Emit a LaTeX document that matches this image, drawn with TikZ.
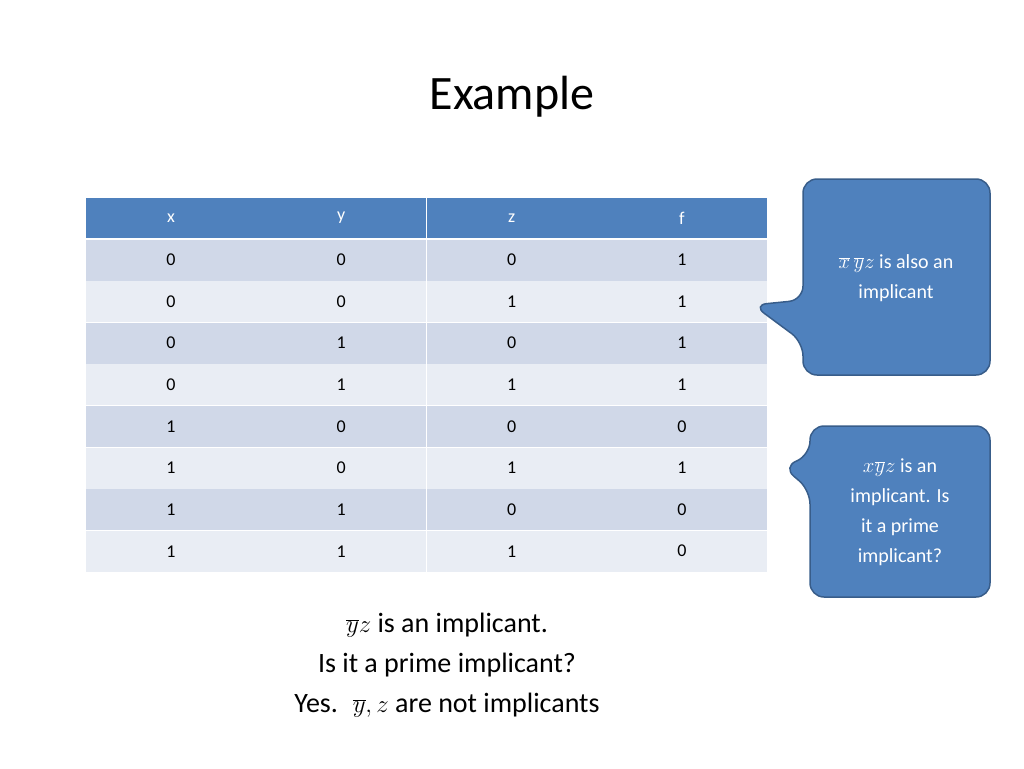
\documentclass[tikz,border=0pt]{standalone}
\usepackage{fontspec}
\setmainfont{Carlito}
\begin{document}
\begin{tikzpicture}[x=1pt,y=-1pt,
 cell/.style={minimum width=170pt,minimum height=41pt,inner sep=0pt,font=\fontsize{18}{20}\selectfont},
 callout/.style={fill={rgb,255:red,79;green,129;blue,189},draw={rgb,255:red,56;green,93;blue,138},line width=1.5pt,rounded corners=14pt},
 ctext/.style={text=white,font=\fontsize{20}{30}\selectfont,align=center}]
\useasboundingbox (0,0) rectangle (1024,768);
\definecolor{hdr}{RGB}{79,129,189}
\definecolor{rA}{RGB}{208,216,232}
\definecolor{rB}{RGB}{233,237,244}
\node[font=\fontsize{48}{56}\selectfont] (title) at (512,97) {Example};
% header
\foreach \t [count=\i from 0] in {x,y,z,f}{
  \node[cell,fill=hdr,text=white,minimum height=40pt] (h\i) at (171+170.3*\i,218) {\t};}
\foreach \a/\b/\c/\f [count=\r from 0] in {0/0/0/1,0/0/1/1,0/1/0/1,0/1/1/1,1/0/0/0,1/0/1/1,1/1/0/0,1/1/1/0}{
  \pgfmathsetmacro\yy{260+41.6*\r}
  \pgfmathtruncatemacro\odd{mod(\r,2)}
  \ifnum\odd=0 \def\rc{rA}\else\def\rc{rB}\fi
  \foreach \v [count=\i from 0] in {\a,\b,\c,\f}{
    \node[cell,fill=\rc] (c\r\i) at (171+170.3*\i,\yy) {\v};}
}
% callouts
\draw[callout] (803,300) -- (753,305) -- (803,342) -- (803,375) -- (990,375) -- (990,179) -- (803,179) -- cycle;
\node[ctext] (t1) at (896,278) {$\overline{x}\,\overline{y}z$ is also an\\implicant};
\draw[callout] (810,455) -- (783,467) -- (810,490) -- (810,597) -- (990,597) -- (990,426) -- (810,426) -- cycle;
\node[ctext] (t2) at (900,512) {$x\overline{y}z$ is an\\implicant. Is\\it a prime\\implicant?};
\node[align=center,font=\fontsize{28}{40}\selectfont] (bot) at (447,665) {$\overline{y}z$ is an implicant.\\Is it a prime implicant?\\Yes. \ $\overline{y}, z$ are not implicants};
\end{tikzpicture}
\end{document}
